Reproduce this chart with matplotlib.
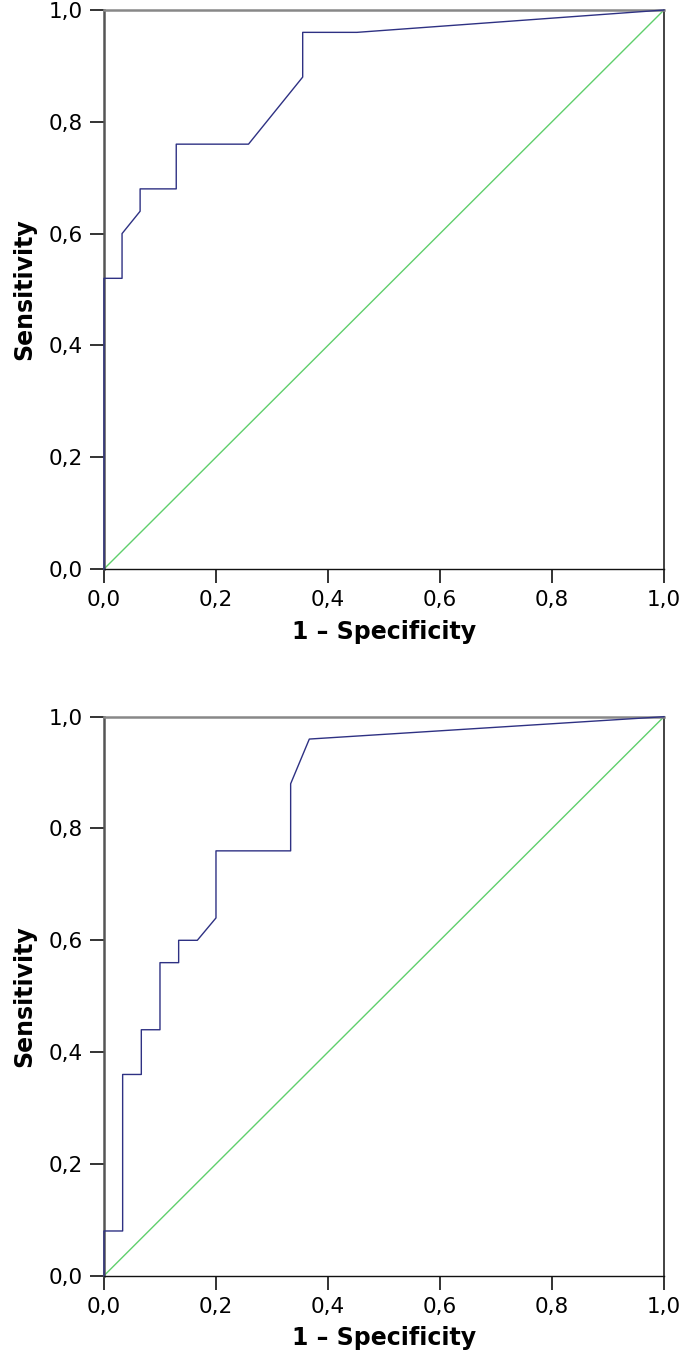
import matplotlib
matplotlib.use("Agg")
import matplotlib.pyplot as plt

# ROC curve 1 (top)
fpr_top = [0.0, 0.0, 1/31, 1/31, 2/31, 2/31, 4/31, 4/31, 8/31, 11/31, 11/31, 14/31, 1.0]
sens_top = [0.0, 0.52, 0.52, 0.60, 0.64, 0.68, 0.68, 0.76, 0.76, 0.88, 0.96, 0.96, 1.0]

# ROC curve 2 (bottom)
fpr_bot = [0.0, 0.0, 1/30, 1/30, 2/30, 2/30, 3/30, 3/30, 4/30, 4/30, 5/30, 6/30, 6/30,
           10/30, 10/30, 11/30, 1.0]
sens_bot = [0.0, 0.08, 0.08, 0.36, 0.36, 0.44, 0.44, 0.56, 0.56, 0.60, 0.60, 0.64, 0.76,
            0.76, 0.88, 0.96, 1.0]

ref_line = [0.0, 1.0]
ticks = [0.0, 0.2, 0.4, 0.6, 0.8, 1.0]
tick_labels = ["0,0", "0,2", "0,4", "0,6", "0,8", "1,0"]

roc_color = "#2e3183"
ref_color = "#5fcf6c"

fig = plt.figure(figsize=(6.85, 13.62), dpi=100)
ax_top = fig.add_axes([0.1518, 0.58223, 0.8175, 0.41043])
ax_bot = fig.add_axes([0.1518, 0.06336, 0.8175, 0.41043])

for ax, xs, ys in [(ax_top, fpr_top, sens_top), (ax_bot, fpr_bot, sens_bot)]:
    ax.plot(ref_line, ref_line, color=ref_color, lw=1.0, clip_on=False, zorder=2)
    ax.plot(xs, ys, color=roc_color, lw=1.0, clip_on=False, zorder=3)
    ax.set_xlim(0, 1)
    ax.set_ylim(0, 1)
    ax.set_xticks(ticks)
    ax.set_yticks(ticks)
    ax.set_xticklabels(tick_labels)
    ax.set_yticklabels(tick_labels)
    ax.tick_params(direction="out", length=10, width=1.4, labelsize=15.5,
                   color="#333333", pad=5)
    ax.spines["left"].set_color("#555555")
    ax.spines["left"].set_linewidth(1.8)
    ax.spines["top"].set_color("#888888")
    ax.spines["top"].set_linewidth(1.8)
    ax.spines["bottom"].set_color("#111111")
    ax.spines["bottom"].set_linewidth(1.0)
    ax.spines["right"].set_color("#222222")
    ax.spines["right"].set_linewidth(1.2)
    ax.set_xlabel("1 \u2013 Specificity", fontsize=17, fontweight="bold", labelpad=7)
    ax.set_ylabel("Sensitivity", fontsize=17, fontweight="bold", labelpad=9)

fig.savefig("out.png", dpi=100)
